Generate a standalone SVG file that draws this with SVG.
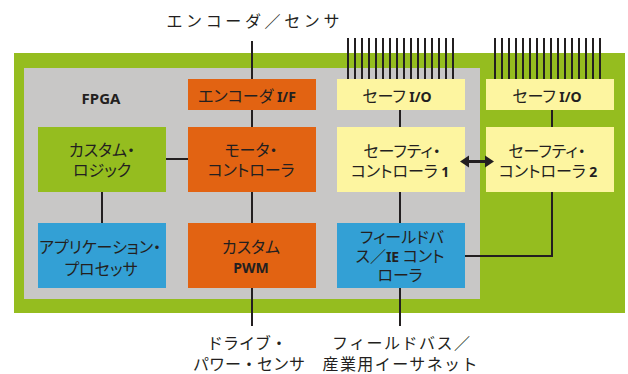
<svg xmlns="http://www.w3.org/2000/svg" width="628" height="374" viewBox="0 0 628 374">
<style>
.t{font-family:"Noto Sans CJK JP","Noto Sans",sans-serif;font-size:16px;fill:#231f20;text-anchor:middle;font-feature-settings:"palt" 1}
.o{font-family:"Noto Sans CJK JP","Noto Sans",sans-serif;font-size:16px;fill:#231f20;text-anchor:middle}
.b{font-family:"Noto Sans","Open Sans",sans-serif;font-weight:bold;font-size:14px}
.ln{stroke:#231f20;stroke-width:2;fill:none}
.cm{stroke:#231f20;stroke-width:2}
.org{fill:#e26312}.yel{fill:#fdf5a0}.grn{fill:#95bd1f}.blu{fill:#33a0d5}
</style>
<rect x="14" y="53" width="611" height="260" fill="#95bd1f"/>
<rect x="24" y="68" width="456" height="231" fill="#c8c7c6"/>
<text class="b" x="101" y="104" text-anchor="middle" fill="#231f20" style="font-size:15px">FPGA</text>
<g id="encoder-if"><rect class="org" x="188" y="79" width="128" height="31"/><text class="t" x="247" y="102">エンコーダ <tspan class="b">I/F</tspan></text></g>
<g id="safe-io-1"><rect class="yel" x="337" y="79" width="128" height="31"/><text class="t" x="397" y="102">セーフ <tspan class="b">I/O</tspan></text></g>
<g id="safe-io-2"><rect class="yel" x="486" y="79" width="128" height="31"/><text class="t" x="547" y="102">セーフ <tspan class="b">I/O</tspan></text></g>
<g id="custom-logic"><rect class="grn" x="38" y="127" width="128" height="65"/><text class="t" x="102" y="156">カスタム・</text><text class="t" x="102" y="176">ロジック</text></g>
<g id="motor-controller"><rect class="org" x="188" y="127" width="128" height="65"/><text class="t" x="251" y="156">モータ・</text><text class="t" x="251" y="176">コントローラ</text></g>
<g id="safety-controller-1"><rect class="yel" x="337" y="127" width="128" height="65"/><text class="t" x="402" y="157">セーフティ・</text><text class="t" x="400" y="177">コントローラ <tspan class="b">1</tspan></text></g>
<g id="safety-controller-2"><rect class="yel" x="486" y="127" width="128" height="65"/><text class="t" x="547" y="157">セーフティ・</text><text class="t" x="548" y="177">コントローラ <tspan class="b">2</tspan></text></g>
<g id="application-processor"><rect class="blu" x="38" y="223" width="128" height="65"/><text class="t" x="100" y="253">アプリケーション・</text><text class="t" x="101" y="275">プロセッサ</text></g>
<g id="custom-pwm"><rect class="org" x="188" y="223" width="128" height="65"/><text class="t" x="251" y="253">カスタム</text><text class="b" x="251" y="273" text-anchor="middle" fill="#231f20">PWM</text></g>
<g id="fieldbus-controller"><rect class="blu" x="337" y="223" width="128" height="65"/><text class="t" x="402" y="243">フィールドバ</text><text class="t" x="400" y="262">ス／<tspan class="b">IE</tspan> コント</text><text class="t" x="400" y="281">ローラ</text></g>
<g id="connectors">
<line class="ln" x1="252" y1="41" x2="252" y2="79"/>
<line class="ln" x1="252" y1="110" x2="252" y2="127"/>
<line class="ln" x1="252" y1="192" x2="252" y2="223"/>
<line class="ln" x1="252" y1="288" x2="252" y2="326"/>
<line class="ln" x1="166" y1="159" x2="188" y2="159"/>
<line class="ln" x1="102" y1="192" x2="102" y2="223"/>
<line class="ln" x1="400" y1="110" x2="400" y2="127"/>
<line class="ln" x1="400" y1="192" x2="400" y2="223"/>
<line class="ln" x1="400" y1="288" x2="400" y2="326"/>
<line class="ln" x1="552" y1="110" x2="552" y2="127"/>
<polyline class="ln" points="552,192 552,256 465,256"/>
<g class="cm">
<line x1="348" y1="38" x2="348" y2="79"/><line x1="355" y1="38" x2="355" y2="79"/><line x1="362" y1="38" x2="362" y2="79"/><line x1="369" y1="38" x2="369" y2="79"/><line x1="376" y1="38" x2="376" y2="79"/><line x1="383" y1="38" x2="383" y2="79"/><line x1="390" y1="38" x2="390" y2="79"/><line x1="397" y1="38" x2="397" y2="79"/><line x1="404" y1="38" x2="404" y2="79"/><line x1="411" y1="38" x2="411" y2="79"/><line x1="418" y1="38" x2="418" y2="79"/><line x1="425" y1="38" x2="425" y2="79"/><line x1="432" y1="38" x2="432" y2="79"/><line x1="439" y1="38" x2="439" y2="79"/><line x1="446" y1="38" x2="446" y2="79"/><line x1="453" y1="38" x2="453" y2="79"/>
<line x1="495" y1="38" x2="495" y2="79"/><line x1="502" y1="38" x2="502" y2="79"/><line x1="509" y1="38" x2="509" y2="79"/><line x1="516" y1="38" x2="516" y2="79"/><line x1="523" y1="38" x2="523" y2="79"/><line x1="530" y1="38" x2="530" y2="79"/><line x1="537" y1="38" x2="537" y2="79"/><line x1="544" y1="38" x2="544" y2="79"/><line x1="551" y1="38" x2="551" y2="79"/><line x1="558" y1="38" x2="558" y2="79"/><line x1="565" y1="38" x2="565" y2="79"/><line x1="572" y1="38" x2="572" y2="79"/><line x1="579" y1="38" x2="579" y2="79"/><line x1="586" y1="38" x2="586" y2="79"/><line x1="593" y1="38" x2="593" y2="79"/><line x1="600" y1="38" x2="600" y2="79"/>
</g>
<path d="M460,161.5 L469,155.5 L469,160 L485,160 L485,155.5 L494,161.5 L485,167.5 L485,163 L469,163 L469,167.5 Z" fill="#231f20"/>
</g>
<g id="labels">
<text class="o" x="253" y="27" textLength="173" lengthAdjust="spacing">エンコーダ／センサ</text>
<text class="o" x="247" y="349">ドライブ・</text>
<text class="o" x="249" y="370">パワー・センサ</text>
<text class="o" x="401" y="349" textLength="138" lengthAdjust="spacing">フィールドバス／</text>
<text class="o" x="400" y="370" textLength="155" lengthAdjust="spacing">産業用イーサネット</text>
</g>
</svg>
